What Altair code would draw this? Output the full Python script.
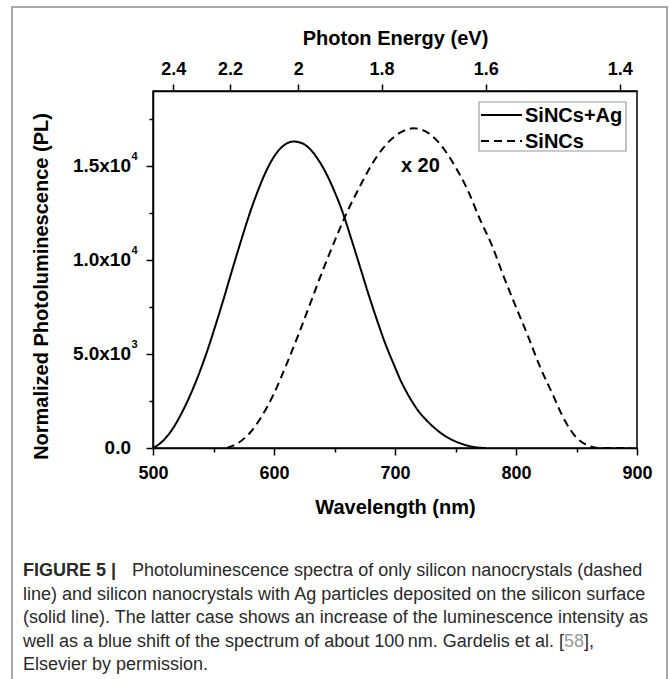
import altair as alt
import pandas as pd

FONT = "Liberation Sans"

# ---- spectra -------------------------------------------------------------
series_names = ["SiNCs+Ag", "SiNCs"]

# silicon nanocrystals with Ag particles (solid line)
ag_wavelength = [500, 505, 510, 517, 524, 531, 538, 545, 552, 559, 566, 573,
                 580, 587, 594, 601, 608, 616, 622, 629, 636, 643, 650, 657,
                 664, 671, 678, 685, 692, 699, 705, 712, 719, 726, 733, 740,
                 747, 754, 761, 768, 775]
ag_intensity = [0, 200, 500, 1100, 1900, 2850, 3950, 5200, 6600, 8070, 9600,
                11080, 12500, 13740, 14800, 15600, 16100, 16310, 16250, 15960,
                15400, 14630, 13650, 12500, 11100, 9660, 8200, 6830, 5550,
                4450, 3550, 2700, 2000, 1480, 1050, 700, 440, 250, 110, 30, 0]

# bare silicon nanocrystals, intensity multiplied by 20 (dashed line)
nc_wavelength = [561, 570, 580, 590, 600, 610, 620, 630, 640, 650, 660, 670,
                 680, 690, 700, 710, 715, 720, 730, 740, 750, 760, 770, 780,
                 790, 800, 810, 820, 830, 840, 850, 860, 868, 880, 895]
nc_intensity = [0, 250, 800, 1700, 2900, 4400, 6000, 7700, 9400, 11000, 12500,
                13800, 15000, 15950, 16600, 16950, 17020, 16980, 16650, 15950,
                14950, 13740, 12200, 10800, 9100, 7500, 5940, 4300, 2900, 1500,
                550, 120, 0, 0, 0]

# ---- axes ----------------------------------------------------------------
x_domain = [500, 900]
x_ticks = [500, 550, 600, 650, 700, 750, 800, 850, 900]
y_domain = [0, 19000]
y_ticks = [0, 2500, 5000, 7500, 10000, 12500, 15000, 17500]
# y tick labels: value, mantissa part, power-of-ten exponent
y_label_values = [0, 5000, 10000, 15000]
y_label_base = ["0.0", "5.0x10", "1.0x10", "1.5x10"]
y_label_exp = ["", "3", "4", "4"]
energy_ticks = [2.4, 2.2, 2.0, 1.8, 1.6, 1.4]
HC = 1240.0  # eV·nm, photon energy <-> wavelength

scale_note = "x 20"

caption_head_bold = "FIGURE 5 |"
caption_head_rest = "Photoluminescence spectra of only silicon nanocrystals (dashed"
caption_lines = [
    "line) and silicon nanocrystals with Ag particles deposited on the silicon surface",
    "(solid line). The latter case shows an increase of the luminescence intensity as",
    None,  # line with the reference number, drawn in three pieces below
    "Elsevier by permission.",
]
ref_prefix = "well as a blue shift of the spectrum of about 100\u2009nm. Gardelis et al. ["
ref_number = "58"
ref_suffix = "],"

# ---- geometry of the page (plot origin at left/top padding) --------------
PAD_L, PAD_T = 153, 91
W, H = 484, 357
PAGE_W, PAGE_H = 669, 679

spectra = pd.DataFrame({
    "wavelength": ag_wavelength + nc_wavelength,
    "intensity": ag_intensity + nc_intensity,
    "series": [series_names[0]] * len(ag_wavelength) + [series_names[1]] * len(nc_wavelength),
})

x_scale = alt.Scale(domain=x_domain, nice=False, zero=False)
y_scale = alt.Scale(domain=y_domain, nice=False)

axis_common = dict(
    labelFont=FONT, labelFontWeight="bold", labelFontSize=18, labelColor="black",
    titleFont=FONT, titleFontWeight="bold", titleFontSize=20, titleColor="black",
    domainColor="black", domainWidth=1.5, tickColor="black", tickWidth=1.5,
    grid=False,
)

bottom_axis = alt.Axis(
    orient="bottom", values=x_ticks, title="Wavelength (nm)",
    labelExpr="datum.value % 100 === 0 ? datum.label : ''",
    tickSize={"condition": {"test": "datum.value % 100 !== 0", "value": 4}, "value": 7},
    labelPadding=9, titleY=59, titleBaseline="middle", labelFlush=False,
    **axis_common,
)
left_axis = alt.Axis(
    orient="left", values=y_ticks, title="Normalized Photoluminescence (PL)",
    labels=False,
    tickSize={"condition": {"test": "datum.value % 5000 !== 0", "value": 4}, "value": 7},
    titleX=-112, titleY=195, titleBaseline="middle", titleAngle=270,
    **axis_common,
)
top_axis = alt.Axis(
    orient="top", values=[HC / e for e in energy_ticks], title="Photon Energy (eV)",
    labelExpr=f"format({HC} / datum.value, '.2~g')",
    tickSize=7, labelPadding=6, titleY=-53, titleBaseline="middle", labelFlush=False,
    **axis_common,
)

lines = alt.Chart(spectra).mark_line(
    color="black", strokeWidth=2, interpolate="monotone"
).encode(
    x=alt.X("wavelength:Q", scale=x_scale, axis=bottom_axis),
    y=alt.Y("intensity:Q", scale=y_scale, axis=left_axis),
    strokeDash=alt.StrokeDash(
        "series:N", scale=alt.Scale(domain=series_names, range=[[1, 0], [8, 5]]), legend=None
    ),
    detail="series:N",
)

# "x 20" note; this layer also carries the photon-energy axis on top
note = alt.Chart(pd.DataFrame({"wavelength": [721], "intensity": [15000], "label": [scale_note]})).mark_text(
    font=FONT, fontSize=20, fontWeight="bold", color="black"
).encode(
    x=alt.X("wavelength:Q", scale=x_scale, axis=top_axis),
    y=alt.Y("intensity:Q", scale=y_scale, axis=None),
    text="label:N",
)

# y tick labels written as mantissa x 10 with a raised exponent
y_labels = pd.DataFrame({"intensity": y_label_values, "base": y_label_base, "exp": y_label_exp})
y_label_base_layer = alt.Chart(y_labels).mark_text(
    font=FONT, fontSize=19, fontWeight="bold", color="black", align="right", baseline="middle"
).encode(
    x=alt.value(131 - PAD_L),
    y=alt.Y("intensity:Q", scale=y_scale, axis=None),
    text="base:N",
)
y_label_exp_layer = alt.Chart(y_labels).mark_text(
    font=FONT, fontSize=11, fontWeight="bold", color="black", align="left", baseline="middle", dy=-9
).encode(
    x=alt.value(131.5 - PAD_L),
    y=alt.Y("intensity:Q", scale=y_scale, axis=None),
    text="exp:N",
)

one = pd.DataFrame({"k": [0]})

# outer figure frame
frame = alt.Chart(one).mark_rect(
    fill="white", fillOpacity=0, stroke="#8c8c8c", strokeWidth=1.5
).encode(
    x=alt.value(12 - PAD_L), x2=alt.value(667 - PAD_L),
    y=alt.value(7 - PAD_T), y2=alt.value(PAGE_H + 20 - PAD_T),
)

# legend box with line samples
legend_layers = [
    alt.Chart(one).mark_rect(fill="white", stroke="#9a9a9a", strokeWidth=1.2).encode(
        x=alt.value(479 - PAD_L), x2=alt.value(626 - PAD_L),
        y=alt.value(102 - PAD_T), y2=alt.value(151 - PAD_T),
    )
]
legend_dash = [[1, 0], [8, 5]]
for i, name in enumerate(series_names):
    row_y = 115 + i * 26 - PAD_T
    legend_layers.append(
        alt.Chart(one).mark_rule(color="black", strokeWidth=2, strokeDash=legend_dash[i]).encode(
            x=alt.value(481 - PAD_L), x2=alt.value(522 - PAD_L), y=alt.value(row_y)
        )
    )
    legend_layers.append(
        alt.Chart(one).mark_text(
            text=name, font=FONT, fontSize=20, fontWeight="bold", color="black",
            align="left", baseline="middle",
        ).encode(x=alt.value(525 - PAD_L), y=alt.value(row_y + 1))
    )

# figure caption
CAP_COLOR = "#2a2a2a"
REF_COLOR = "#9a9a9a"
CAP_SIZE = 18
CAP_X = 23
cap_y0 = 571
cap_step = 23.5
# start of the grey reference number and of the closing bracket on its line
REF_NUM_X = 564
REF_SUFFIX_X = 584


def cap_text(text, x, y, color=CAP_COLOR, weight="normal"):
    return alt.Chart(one).mark_text(
        text=text, font=FONT, fontSize=CAP_SIZE, fontWeight=weight,
        color=color, align="left", baseline="middle",
    ).encode(x=alt.value(x - PAD_L), y=alt.value(y - PAD_T))


caption_layers = [
    cap_text(caption_head_bold, CAP_X, cap_y0, weight="bold"),
    cap_text(caption_head_rest, 132, cap_y0),
]
for i, line in enumerate(caption_lines):
    y = cap_y0 + (i + 1) * cap_step
    if line is None:
        caption_layers.append(cap_text(ref_prefix, CAP_X, y))
        caption_layers.append(cap_text(ref_number, REF_NUM_X, y, color=REF_COLOR))
        caption_layers.append(cap_text(ref_suffix, REF_SUFFIX_X, y))
    else:
        caption_layers.append(cap_text(line, CAP_X, y))

chart = alt.layer(
    frame, lines, note, y_label_base_layer, y_label_exp_layer, *legend_layers, *caption_layers
).resolve_axis(
    x="independent", y="independent"
).properties(
    width=W, height=H,
    padding={"left": PAD_L, "top": PAD_T, "right": PAGE_W - PAD_L - W, "bottom": PAGE_H - PAD_T - H},
    autosize=alt.AutoSizeParams(type="none"),
    background="white",
).configure_view(stroke="black", strokeWidth=1.5)

chart.save("out.html", embed_options={"renderer": "svg", "actions": False})
